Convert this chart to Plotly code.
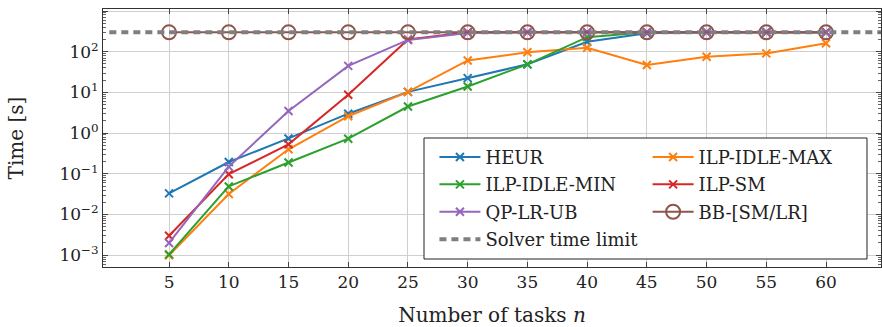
import plotly.graph_objects as go

# Number of tasks
n_tasks = [5, 10, 15, 20, 25, 30, 35, 40, 45, 50, 55, 60]

# Computation time [s] per method
heur = [0.033, 0.195, 0.74, 3.0, 10.3, 22.5, 49, 175, 285, 300, 300, 300]
ilp_idle_max = [0.001, 0.032, 0.40, 2.6, 10.3, 61, 97, 125, 47, 75, 91, 161]
ilp_idle_min = [0.00105, 0.049, 0.19, 0.73, 4.5, 14, 49, 228, 300, 300, 300, 300]
ilp_sm = [0.003, 0.098, 0.53, 8.8, 200, 300, 300, 300, 300, 300, 300, 300]
qp_lr_ub = [0.002, 0.15, 3.5, 45, 195, 290, 300, 300, 300, 300, 300, 300]
bb_sm_lr = [300, 300, 300, 300, 300, 300, 300, 300, 300, 300, 300, 300]

# Solver time limit
limit_x = [0, 65]
limit_y = [300, 300]

# Axis ticks
y_tickvals = [1e-3, 1e-2, 1e-1, 1e0, 1e1, 1e2, 1e3]
y_ticktext = ["10<sup>−3</sup>", "10<sup>−2</sup>", "10<sup>−1</sup>", "10<sup>0</sup>",
              "10<sup>1</sup>", "10<sup>2</sup>", "10<sup>3</sup>"]

FONT = "DejaVu Serif"
BLUE, ORANGE, GREEN, RED, PURPLE, BROWN, GRAY = (
    "#1f77b4", "#ff7f0e", "#2ca02c", "#d62728", "#9467bd", "#8c564b", "#7f7f7f")

fig = go.Figure()


def add_series(y, name, color, legend):
    fig.add_trace(go.Scatter(
        x=n_tasks, y=y, name=name, mode="lines+markers",
        line=dict(color=color, width=2),
        marker=dict(symbol="x-thin", size=8, line=dict(color=color, width=2), color=color),
        legend=legend, legendgroup=name,
    ))


add_series(heur, "HEUR", BLUE, "legend")
add_series(ilp_idle_max, "ILP-IDLE-MAX", ORANGE, "legend2")
add_series(ilp_idle_min, "ILP-IDLE-MIN", GREEN, "legend")
add_series(ilp_sm, "ILP-SM", RED, "legend2")
add_series(qp_lr_ub, "QP-LR-UB", PURPLE, "legend")

fig.add_trace(go.Scatter(
    x=n_tasks, y=bb_sm_lr, name="BB-[SM/LR]", mode="lines+markers",
    line=dict(color=BROWN, width=2),
    marker=dict(symbol="circle-open", size=14, line=dict(color=BROWN, width=2), color=BROWN),
    legend="legend2", legendgroup="BB-[SM/LR]",
))

fig.add_trace(go.Scatter(
    x=limit_x, y=limit_y, name="Solver time limit", mode="lines",
    line=dict(color=GRAY, width=4, dash="7px,5px"),
    legend="legend", legendgroup="limit",
))

# minor tick positions 2..9 within each decade
minor_vals = [m * 10.0 ** e for e in range(-4, 3) for m in range(2, 10)]

legend_common = dict(
    bgcolor="rgba(0,0,0,0)", borderwidth=0, xanchor="left", yanchor="top",
    font=dict(family=FONT, size=18, color="#222"), traceorder="grouped",
    tracegroupgap=1, itemwidth=41,
)

fig.update_layout(
    width=882, height=327,
    margin=dict(l=103, r=1, t=9, b=60),
    plot_bgcolor="white", paper_bgcolor="white",
    font=dict(family=FONT, size=17, color="#222"),
    legend=dict(x=0.426, y=0.497, **legend_common),
    legend2=dict(x=0.70, y=0.497, **legend_common),
    shapes=[dict(type="rect", xref="paper", yref="paper",
                 x0=0.4126, x1=0.982, y0=0.031, y1=0.5,
                 line=dict(color="#222", width=1), fillcolor="white", layer="above")],
)

fig.update_xaxes(
    range=[-0.53, 64.6], tickvals=n_tasks, ticks="inside", ticklen=5,
    tickcolor="#444", showgrid=True, gridcolor="#cfcfcf", gridwidth=1,
    showline=True, linecolor="#333", linewidth=1, mirror="ticks", zeroline=False,
    title=dict(text="Number of tasks <i>n</i>", standoff=17),
)

fig.update_yaxes(
    type="log", range=[-3.29, 3.05], tickvals=y_tickvals, ticktext=y_ticktext,
    ticks="inside", ticklen=5, tickcolor="#444",
    minor=dict(tickvals=minor_vals, ticks="inside", ticklen=3, tickcolor="#666", showgrid=False),
    showgrid=True, gridcolor="#cfcfcf", gridwidth=1,
    showline=True, linecolor="#333", linewidth=1, mirror="ticks", zeroline=False,
    title=dict(text="Time [s]", standoff=30),
)

fig.write_html("out.html")
